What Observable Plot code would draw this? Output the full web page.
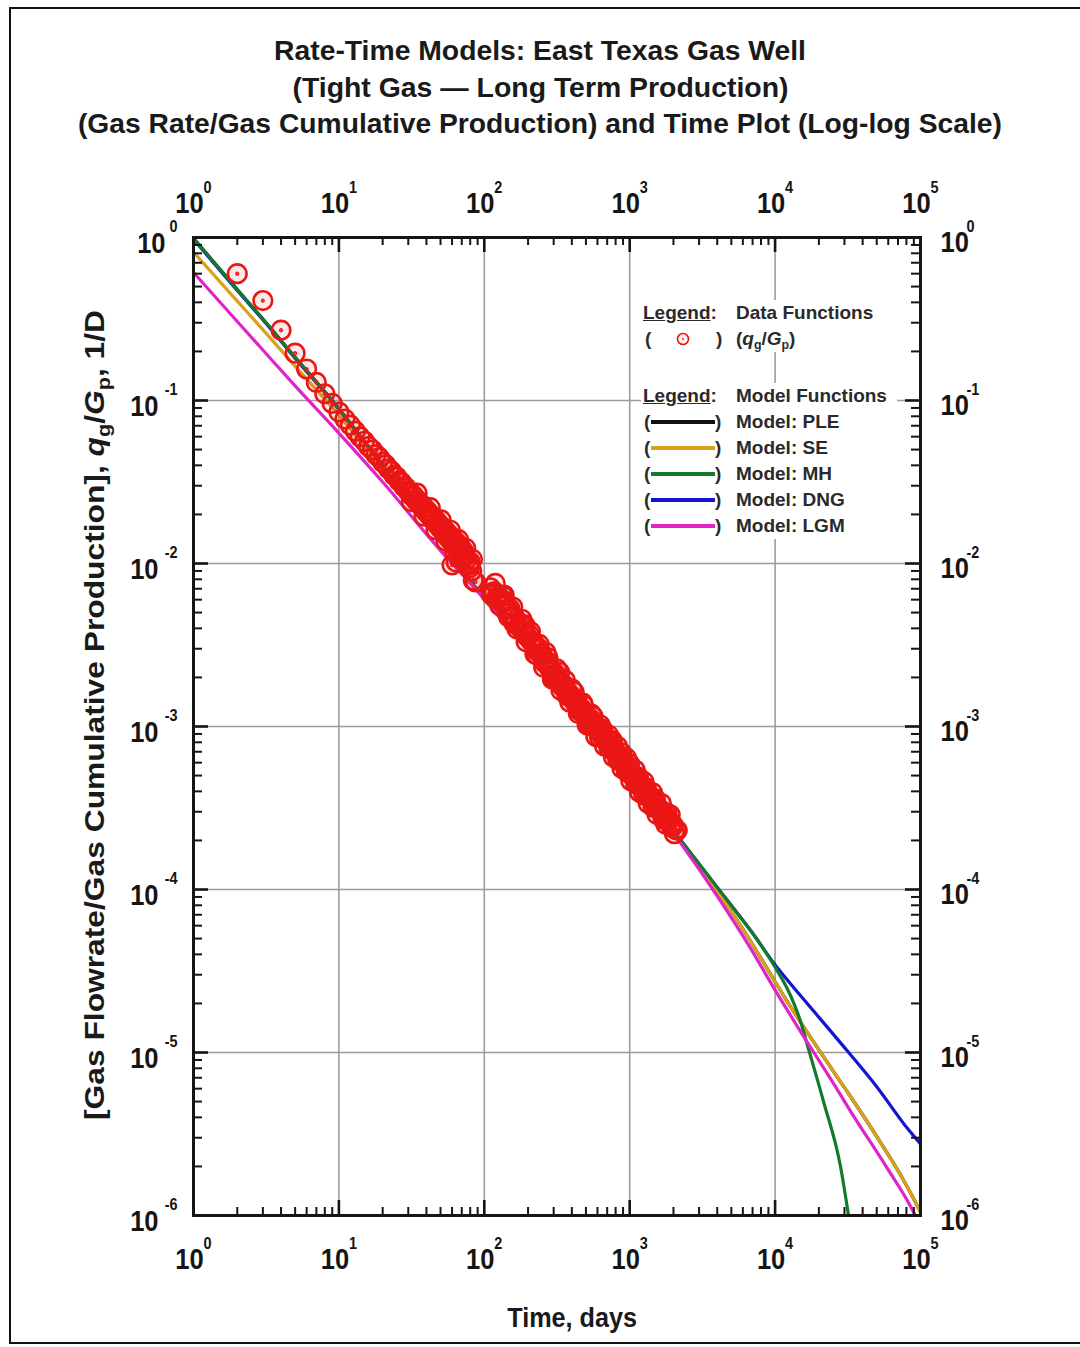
<!DOCTYPE html>
<html><head><meta charset="utf-8"><title>Rate-Time Models</title>
<script src="https://cdn.jsdelivr.net/npm/d3@7"></script>
<script src="https://cdn.jsdelivr.net/npm/@observablehq/plot@0.6"></script>
<style>
body{margin:0;background:#fff;}
#wrap{position:relative;width:1080px;height:1347px;overflow:hidden;font-family:"Liberation Sans",Arial,Helvetica,sans-serif;color:#1a1a1a;background:#fff;}
#border{position:absolute;left:9px;top:7px;width:1080px;height:1337px;border:2px solid #111;box-sizing:border-box;}
.title{position:absolute;left:0;width:1080px;text-align:center;font-weight:bold;font-size:28px;line-height:28px;height:28px;white-space:nowrap;}
.title span{display:inline-block;transform-origin:center;}
#plot{position:absolute;left:0;top:0;}
#ylab{position:absolute;left:95px;top:715px;font-weight:bold;font-size:28px;line-height:30px;white-space:nowrap;}
#ylab sub{font-size:0.68em;vertical-align:-0.3em;line-height:0;}
#xlab{position:absolute;left:0;width:1144px;text-align:center;top:1304px;font-weight:bold;font-size:28px;line-height:28px;}
#xlab span{display:inline-block;transform:scaleX(0.9);}
.lrow{position:absolute;left:641px;width:256px;background:#fff;font-weight:bold;font-size:19px;color:#2a2a2a;white-space:nowrap;}
.lrow span,.lrow svg{position:absolute;}
.lrow sub{font-size:0.65em;vertical-align:-0.3em;line-height:0;}
</style></head>
<body><div id="wrap">
<div id="border"></div>
<div class="title" style="top:37px"><span id="t1">Rate-Time Models: East Texas Gas Well</span></div>
<div class="title" style="top:74px"><span id="t2">(Tight Gas — Long Term Production)</span></div>
<div class="title" style="top:110px"><span id="t3">(Gas Rate/Gas Cumulative Production) and Time Plot (Log-log Scale)</span></div>
</div>
<script>
// ---- tick labels ----
const majorX = [1, 10, 100, 1000, 10000, 100000];
const expX = ["0", "1", "2", "3", "4", "5"];
const majorY = [1, 0.1, 0.01, 0.001, 0.0001, 0.00001, 0.000001];
const expY = ["0", "-1", "-2", "-3", "-4", "-5", "-6"];
const minorMult = [2, 3, 4, 5, 6, 7, 8, 9];
const gridX = [10, 100, 1000, 10000];
const gridY = [0.1, 0.01, 0.001, 0.0001, 0.00001];

// ---- data: (q_g/G_p) vs time, days ----
const dataEarly = [[2,0.60],[3,0.41],[4,0.27],[5,0.195],[6,0.156],[7,0.129],[8,0.110],[9,0.096],[10,0.085],
[11,0.0770],[12,0.0706],[13,0.0648],[14,0.0598],[15,0.0562],[16,0.0522],[17,0.0497],[18,0.0465],[19,0.0446],[20,0.0418],
[21,0.0403],[22,0.0380],[23,0.0368],[24,0.0347],[25,0.0339],[26,0.0320],[27,0.0314],[28,0.0296],[29,0.0292],[30,0.0277],
[31,0.0274],[32,0.0259],[33,0.0258],[34,0.0243],[35,0.0243],[36,0.0229],[37,0.0230],[38,0.0217],[39,0.0218],[40,0.0206],
[41,0.0208],[42,0.0196],[43,0.0198],[44,0.0187],[45,0.0190],[46,0.0179],[47,0.0182],[48,0.0171],[49,0.0174],[50,0.0164],
[51,0.0168],[52,0.0158],[53,0.0161],[54,0.0152],[55,0.0156],[56,0.0146],[57,0.0150],[58,0.0141],[59,0.0146],[60,0.0136],
[60,0.0098],[61,0.0141],[62,0.0131],[63,0.0137],[64,0.0127],[64,0.0102],[65,0.0133],[66,0.0122],[67,0.0129],[68,0.0119],
[68,0.0108],[69,0.0125],[70,0.0115],[72,0.0119],[74,0.0110],[76,0.0106],[78,0.0098],[80,0.0102],[82,0.0090],[84,0.0079],[87,0.0077]];
const dataEarlySpread = [[31.5,0.0240],[34.5,0.0270],[38.5,0.0195],[42.5,0.0220],[46.5,0.0161],[50.5,0.0185],[54.5,0.0137],
[58.5,0.0160],[62.5,0.0120],[66.5,0.0140],[70.5,0.0106],[74.5,0.0124],[79,0.0094],[83,0.0106]];
const dataLate = [[110,7.1e-3],[114,6.6e-3],[117,6.7e-3],[122,6.2e-3],[126,6.3e-3],[130,5.85e-3],[135,5.81e-3],[135,6.3e-3],
[140,5.85e-3],[144,5.24e-3],[150,5.27e-3],[155,4.72e-3],[160,4.75e-3],[160,4.3e-3],[166,4.51e-3],[172,4.13e-3],[178,4.26e-3],
[184,3.85e-3],[190,3.88e-3],[190,4.2e-3],[197,3.56e-3],[204,3.66e-3],[211,3.32e-3],[219,3.27e-3],[226,2.96e-3],[230,2.75e-3],
[234,3.04e-3],[243,2.79e-3],[251,2.74e-3],[260,2.46e-3],[265,2.85e-3],[269,2.50e-3],[279,2.30e-3],[288,2.28e-3],[299,2.07e-3],
[300,2.0e-3],[309,2.10e-3],[320,1.93e-3],[330,2.15e-3],[331,1.92e-3],[343,1.76e-3],[355,1.79e-3],[367,1.64e-3],[370,1.55e-3],
[380,1.61e-3],[394,1.50e-3],[400,1.7e-3],[407,1.51e-3],[422,1.40e-3],[437,1.40e-3],[450,1.25e-3],[452,1.29e-3],[468,1.28e-3],
[480,1.35e-3],[484,1.20e-3],[501,1.19e-3],[519,1.10e-3],[530,1.03e-3],[537,1.11e-3],[556,1.02e-3],[560,1.15e-3],[575,1.02e-3],
[596,9.53e-4],[617,9.70e-4],[620,8.6e-4],[638,8.89e-4],[650,9.6e-4],[661,8.85e-4],[684,8.20e-4],[708,8.36e-4],[720,7.4e-4],
[733,7.66e-4],[759,7.62e-4],[760,8.2e-4],[785,6.98e-4],[813,6.93e-4],[830,6.2e-4],[841,6.37e-4],[871,6.47e-4],[880,6.9e-4],
[902,5.94e-4],[933,5.90e-4],[950,5.3e-4],[966,5.36e-4],[1000,5.45e-4],[1000,5.9e-4],[1035,5.00e-4],[1072,4.97e-4],[1100,4.45e-4],
[1109,4.60e-4],[1148,4.63e-4],[1150,4.9e-4],[1189,4.25e-4],[1230,4.23e-4],[1250,3.8e-4],[1274,3.92e-4],[1300,4.2e-4],[1318,3.94e-4],
[1365,3.66e-4],[1413,3.64e-4],[1450,3.2e-4],[1462,3.37e-4],[1500,3.6e-4],[1514,3.39e-4],[1567,3.11e-4],[1622,3.09e-4],[1679,2.90e-4],
[1700,2.7e-4],[1738,2.92e-4],[1799,2.68e-4],[1800,2.95e-4],[1862,2.66e-4],[1928,2.50e-4],[1950,2.4e-4],[1995,2.48e-4],[2065,2.33e-4],[2123,2.31e-4]];
const dataLateSpread = [[112,6.44e-3],[119,7.55e-3],[128,5.51e-3],[137,6.40e-3],[147,4.69e-3],[157,5.40e-3],[168,3.96e-3],[181,4.55e-3],
[194,3.31e-3],[208,3.82e-3],[223,2.78e-3],[239,3.19e-3],[256,2.31e-3],[274,2.65e-3],[294,1.95e-3],[315,2.26e-3],[337,1.66e-3],
[361,1.92e-3],[387,1.41e-3],[415,1.63e-3],[444,1.20e-3],[476,1.39e-3],[510,1.02e-3],[546,1.19e-3],[585,8.69e-4],[627,1.02e-3],
[672,7.57e-4],[720,8.81e-4],[772,6.49e-4],[827,7.53e-4],[886,5.53e-4],[950,6.41e-4],[1018,4.65e-4],[1091,5.40e-4],[1169,3.95e-4],
[1253,4.59e-4],[1343,3.37e-4],[1439,3.91e-4],[1542,2.88e-4],[1653,3.37e-4],[1771,2.51e-4],[1898,2.87e-4],[2030,2.20e-4]];

// ---- model functions ----
const modelNames = ["Model: PLE", "Model: SE", "Model: MH", "Model: DNG", "Model: LGM"];
const modelColors = ["#111111", "#d9a21b", "#137a2c", "#1414d2", "#e024c8"];
const pleCurve = [[1,0.989],[2,0.479],[3,0.316],[5,0.184],[10,0.0891],[20,0.0398],[50,0.0138],[94,0.0065],[200,0.00293],[500,0.00107],[1000,0.000495],[2344,0.000188],[4000,9.77e-5],[5780,6.03e-5],[12760,1.91e-5],[28180,6.61e-6],[33000,5.37e-6],[55600,2.63e-6],[75000,1.70e-6],[100000,1.05e-6]];
const seCurve = [[1,0.813],[2,0.407],[3,0.272],[5,0.162],[10,0.0813],[20,0.038],[50,0.0135],[94,0.00646],[200,0.00293],[500,0.00107],[1000,0.000495],[2344,0.000188],[4000,9.77e-5],[5780,6.03e-5],[12760,1.91e-5],[28180,6.61e-6],[33000,5.37e-6],[55600,2.63e-6],[75000,1.70e-6],[100000,1.05e-6]];
const mhCurve = [[1,0.989],[2,0.479],[3,0.316],[5,0.184],[10,0.0891],[20,0.0398],[50,0.0138],[94,0.0065],[200,0.00295],[500,0.00108],[1000,0.000501],[2344,0.000191],[4000,0.000103],[5780,6.76e-5],[6770,5.62e-5],[9750,3.47e-5],[12760,2.24e-5],[14960,1.55e-5],[16630,1.12e-5],[21530,5.0e-6],[28180,2.0e-6],[32000,1.0e-6],[32600,0.9e-6]];
const dngCurve = [[1,0.977],[2,0.473],[3,0.313],[5,0.182],[10,0.0881],[20,0.0398],[50,0.0138],[94,0.0065],[200,0.00295],[500,0.00108],[1000,0.000501],[2344,0.000191],[4000,0.000103],[5780,6.76e-5],[6770,5.62e-5],[9750,3.55e-5],[16630,2.0e-5],[27000,1.2e-5],[50000,6.17e-6],[82000,3.39e-6],[100000,2.75e-6]];
const lgmCurve = [[1,0.61],[2,0.305],[3,0.204],[5,0.123],[10,0.0631],[20,0.0316],[50,0.012],[94,0.00646],[200,0.00292],[500,0.00106],[1000,0.000492],[2344,0.000182],[4000,9.12e-5],[6770,4.37e-5],[9750,2.51e-5],[13800,1.51e-5],[28180,5.50e-6],[32980,4.37e-6],[58000,2.0e-6],[89570,1.05e-6],[92000,1.0e-6],[95000,0.94e-6]];
const modelCurves = [pleCurve, seCurve, mhCurve, dngCurve, lgmCurve];
const drawOrder = [0, 3, 1, 2, 4];

// ---- build ----
const W = 1080, H = 1347, L = 193, R = 920, T = 237, B = 1215;
const iw = R - L, ih = B - T;
const minorX = majorX.slice(0, -1).flatMap(d => minorMult.map(m => d * m));
const minorY = majorY.slice(1).flatMap(d => minorMult.map(m => d * m));
const points = d3.sort(dataEarly.concat(dataEarlySpread, dataLate, dataLateSpread), d => d[0]);
const ringDot = {draw(ctx, size) {
  const r = Math.sqrt(size / Math.PI);
  ctx.moveTo(r, 0); ctx.arc(0, 0, r, 0, 2 * Math.PI);
  ctx.moveTo(0.8, 0); ctx.arc(0, 0, 0.8, 0, 2 * Math.PI);
}};
const ink = "#151515";
const lab = {fontSize: 30, fontWeight: "bold", fill: ink, lineAnchor: "middle"};
const sup = {fontSize: 17, fontWeight: "bold", fill: ink, lineAnchor: "middle"};

const chart = Plot.plot({
  width: W, height: H,
  marginLeft: L, marginRight: W - R, marginTop: T, marginBottom: H - B,
  style: {background: "transparent", fontFamily: "Liberation Sans, Arial, sans-serif", overflow: "visible"},
  x: {type: "log", domain: [1, 1e5], axis: null},
  y: {type: "log", domain: [1e-6, 1], axis: null},
  marks: [
    Plot.ruleX(gridX, {x: d => d, stroke: "#9c9c9c", strokeWidth: 1.6}),
    Plot.ruleY(gridY, {y: d => d, stroke: "#9c9c9c", strokeWidth: 1.6}),
    ...drawOrder.map(k => Plot.line(modelCurves[k], {x: d => d[0], y: d => d[1], stroke: modelColors[k], strokeWidth: 3.2, curve: "monotone-x", clip: true})),
    Plot.dot(points, {x: d => d[0], y: d => d[1], r: 9.3, symbol: ringDot, fill: "#ff2020", fillOpacity: 0.1, stroke: "#ea1616", strokeWidth: 2.6}),
    // inward ticks
    Plot.ruleX(minorX, {x: d => d, insetTop: ih - 8, stroke: ink, strokeWidth: 2}),
    Plot.ruleX(majorX, {x: d => d, insetTop: ih - 15, stroke: ink, strokeWidth: 2.6}),
    Plot.ruleX(minorX, {x: d => d, insetBottom: ih - 8, stroke: ink, strokeWidth: 2}),
    Plot.ruleX(majorX, {x: d => d, insetBottom: ih - 15, stroke: ink, strokeWidth: 2.6}),
    Plot.ruleY(minorY, {y: d => d, insetRight: iw - 9, stroke: ink, strokeWidth: 2}),
    Plot.ruleY(majorY, {y: d => d, insetRight: iw - 15, stroke: ink, strokeWidth: 2.6}),
    Plot.ruleY(minorY, {y: d => d, insetLeft: iw - 9, stroke: ink, strokeWidth: 2}),
    Plot.ruleY(majorY, {y: d => d, insetLeft: iw - 15, stroke: ink, strokeWidth: 2.6}),
    Plot.frame({stroke: ink, strokeWidth: 3}),
    // x labels bottom/top
    Plot.text(majorX, {x: d => d, frameAnchor: "bottom", text: () => "10", dx: -4, dy: 44, ...lab}),
    Plot.text(majorX, {x: d => d, frameAnchor: "bottom", text: (d, i) => expX[i], dx: 10, dy: 28, textAnchor: "start", ...sup}),
    Plot.text(majorX, {x: d => d, frameAnchor: "top", text: () => "10", dx: -4, dy: -34, ...lab}),
    Plot.text(majorX, {x: d => d, frameAnchor: "top", text: (d, i) => expX[i], dx: 10, dy: -50, textAnchor: "start", ...sup}),
    // y labels left/right
    Plot.text(majorY.slice(0, 1), {y: d => d, frameAnchor: "left", text: () => "10", textAnchor: "end", dx: -28, dy: 6, ...lab}),
    Plot.text(majorY.slice(1), {y: d => d, frameAnchor: "left", text: () => "10", textAnchor: "end", dx: -35, dy: 6, ...lab}),
    Plot.text(majorY, {y: d => d, frameAnchor: "left", text: (d, i) => expY[i], textAnchor: "end", dx: -16, dy: -11, ...sup}),
    Plot.text(majorY, {y: d => d, frameAnchor: "right", text: () => "10", textAnchor: "start", dx: 20, dy: 5, ...lab}),
    Plot.text(majorY, {y: d => d, frameAnchor: "right", text: (d, i) => expY[i], textAnchor: "start", dx: 46, dy: -11, ...sup})
  ]
});
chart.id = "plot";
// condense the tick-label glyphs (narrow bold face of the original)
chart.querySelectorAll('g[aria-label="text"] text').forEach(t => {
  const tr = t.getAttribute("transform");
  if (tr) t.setAttribute("transform", tr + " scale(0.85,1)");
  else {
    const x = +t.getAttribute("x") || 0, y = +t.getAttribute("y") || 0;
    t.removeAttribute("x"); t.removeAttribute("y");
    t.setAttribute("transform", `translate(${x},${y}) scale(0.85,1)`);
  }
});
const wrap = document.getElementById("wrap");
wrap.appendChild(chart);

// axis titles
const xl = document.createElement("div"); xl.id = "xlab"; xl.innerHTML = "<span>Time, days</span>"; wrap.appendChild(xl);
const yl = document.createElement("div"); yl.id = "ylab";
yl.innerHTML = '[Gas Flowrate/Gas Cumulative Production], <i>q</i><sub>g</sub>/<i>G</i><sub>p</sub>, 1/D';
wrap.appendChild(yl);
const yw = yl.getBoundingClientRect().width;
yl.style.transform = `translate(-50%,-50%) rotate(-90deg) scaleX(${810 / yw})`;

// fit titles to reference widths
[["t1", 532], ["t2", 496], ["t3", 924]].forEach(([id, w]) => {
  const el = document.getElementById(id);
  el.style.transform = `scaleX(${w / el.getBoundingClientRect().width})`;
});

// legend
function addRow(top, h, html) {
  const d = document.createElement("div");
  d.className = "lrow"; d.style.top = top + "px"; d.style.height = h + "px"; d.innerHTML = html;
  wrap.appendChild(d);
}
const lh = 26;
function txt(x, s) { return `<span style="left:${x}px;top:0;line-height:${lh}px">${s}</span>`; }
addRow(300, lh, txt(2, "<u>Legend</u>:") + txt(95, "Data Functions"));
addRow(300 + lh, lh, txt(4, "(") + `<svg style="left:34px;top:5px" width="16" height="16"><circle cx="8" cy="8" r="5.5" fill="#fff0f0" stroke="#e81616" stroke-width="1.6"/><circle cx="8" cy="8" r="0.9" fill="#e81616"/></svg>` + txt(75, ")") + txt(95, "(<i>q</i><sub>g</sub>/<i>G</i><sub>p</sub>)"));
addRow(383, lh, txt(2, "<u>Legend</u>:") + txt(95, "Model Functions"));
modelNames.forEach((name, k) => {
  addRow(383 + lh * (k + 1), lh, txt(3, "(") + `<svg style="left:9px;top:0" width="66" height="${lh}"><line x1="1" x2="65" y1="${lh / 2}" y2="${lh / 2}" stroke="${modelColors[k]}" stroke-width="4"/></svg>` + txt(74, ")") + txt(95, name));
});
</script></body></html>
